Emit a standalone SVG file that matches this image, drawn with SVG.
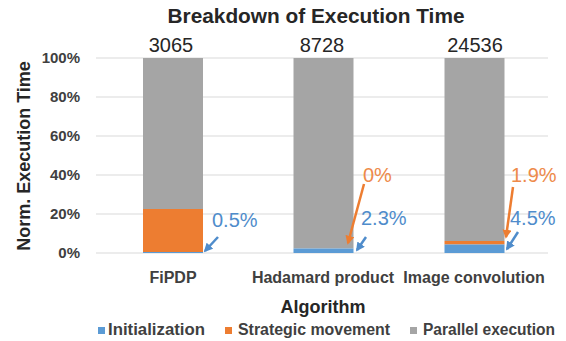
<svg xmlns="http://www.w3.org/2000/svg" width="566" height="341" viewBox="0 0 566 341">
<style>
text{font-family:"Liberation Sans",Arial,sans-serif;fill:#262626}
.b{font-weight:bold}
.tick{font-size:15px;font-weight:bold;text-anchor:end;fill:#404040}
.cat{font-size:16px;font-weight:bold;text-anchor:middle;fill:#404040}
.tot{font-size:20px;text-anchor:middle}
.lg{font-size:16px;font-weight:bold;fill:#404040}
.grid{stroke:#d9d9d9;stroke-width:1.2}
.gray{fill:#a5a5a5}.org{fill:#ed7d31}.blu{fill:#5b9bd5}
.lb{font-size:20px}
.lblue{fill:#4f8ccb}.lorg{fill:#ee8a4a}
.ab{stroke:#4f8ccb;stroke-width:2.5;fill:none}
.ao{stroke:#ed7d31;stroke-width:2.5;fill:none}
</style>
<defs>
<marker id="hb" viewBox="0 0 10 10" refX="8" refY="5" markerWidth="3.6" markerHeight="3.6" orient="auto" markerUnits="strokeWidth"><path d="M0,0 L10,5 L0,10 z" fill="#4f8ccb"/></marker>
<marker id="ho" viewBox="0 0 10 10" refX="8" refY="5" markerWidth="3.6" markerHeight="3.6" orient="auto" markerUnits="strokeWidth"><path d="M0,0 L10,5 L0,10 z" fill="#ed7d31"/></marker>
</defs>
<rect width="566" height="341" fill="#ffffff"/>
<text x="316" y="23" class="b" font-size="20" text-anchor="middle" textLength="297" lengthAdjust="spacingAndGlyphs">Breakdown of Execution Time</text>
<g id="grid">
<line class="grid" x1="96" y1="58" x2="548" y2="58"/>
<line class="grid" x1="96" y1="97" x2="548" y2="97"/>
<line class="grid" x1="96" y1="136" x2="548" y2="136"/>
<line class="grid" x1="96" y1="175" x2="548" y2="175"/>
<line class="grid" x1="96" y1="214" x2="548" y2="214"/>
<line class="grid" x1="96" y1="253" x2="548" y2="253"/>
</g>
<g id="y-axis">
<text class="tick" x="80" y="63">100%</text>
<text class="tick" x="80" y="102">80%</text>
<text class="tick" x="80" y="141">60%</text>
<text class="tick" x="80" y="180">40%</text>
<text class="tick" x="80" y="219">20%</text>
<text class="tick" x="80" y="258">0%</text>
<text class="b" font-size="18" fill="#262626" text-anchor="middle" transform="translate(30,156) rotate(-90)">Norm. Execution Time</text>
</g>
<g id="bar-fipdp">
<rect class="gray" x="143" y="58" width="60" height="151"/>
<rect class="org" x="143" y="209" width="60" height="43"/>
<rect class="blu" x="143" y="252" width="60" height="1"/>
<text class="tot" x="171" y="52">3065</text>
<text class="cat" x="173" y="283">FiPDP</text>
<text class="lb lblue" x="212" y="227">0.5%</text>
</g>
<g id="bar-hadamard">
<rect class="gray" x="293.5" y="58" width="60" height="190.5"/>
<rect class="blu" x="293.5" y="248.5" width="60" height="4.5"/>
<text class="tot" x="322" y="52">8728</text>
<text class="cat" x="323" y="283">Hadamard product</text>
<text class="lb lorg" x="363" y="182">0%</text>
<text class="lb lblue" x="361" y="225">2.3%</text>
</g>
<g id="bar-image">
<rect class="gray" x="444.5" y="58" width="60" height="183"/>
<rect class="org" x="444.5" y="241" width="60" height="3.5"/>
<rect class="blu" x="444.5" y="244.5" width="60" height="8.5"/>
<text class="tot" x="475" y="52">24536</text>
<text class="cat" x="474" y="283">Image convolution</text>
<text class="lb lorg" x="511" y="182">1.9%</text>
<text class="lb lblue" x="510" y="225">4.5%</text>
</g>
<g id="connectors">
<line class="ab" x1="218" y1="237" x2="205" y2="251" marker-end="url(#hb)"/>
<line class="ao" x1="364" y1="184" x2="348" y2="243" marker-end="url(#ho)"/>
<line class="ab" x1="366" y1="237" x2="357" y2="250" marker-end="url(#hb)"/>
<line class="ao" x1="513" y1="187" x2="506" y2="237" marker-end="url(#ho)"/>
<line class="ab" x1="518" y1="232" x2="507" y2="249" marker-end="url(#hb)"/>
</g>
<text class="b" font-size="18" text-anchor="middle" x="323" y="313">Algorithm</text>
<g id="legend">
<rect class="blu" x="98" y="327" width="7" height="7"/>
<text class="lg" x="108" y="335" textLength="97" lengthAdjust="spacingAndGlyphs">Initialization</text>
<rect class="org" x="225" y="327" width="7" height="7"/>
<text class="lg" x="238" y="335" textLength="152" lengthAdjust="spacingAndGlyphs">Strategic movement</text>
<rect class="gray" x="410" y="327" width="7" height="7"/>
<text class="lg" x="423" y="335" textLength="132" lengthAdjust="spacingAndGlyphs">Parallel execution</text>
</g>
</svg>
